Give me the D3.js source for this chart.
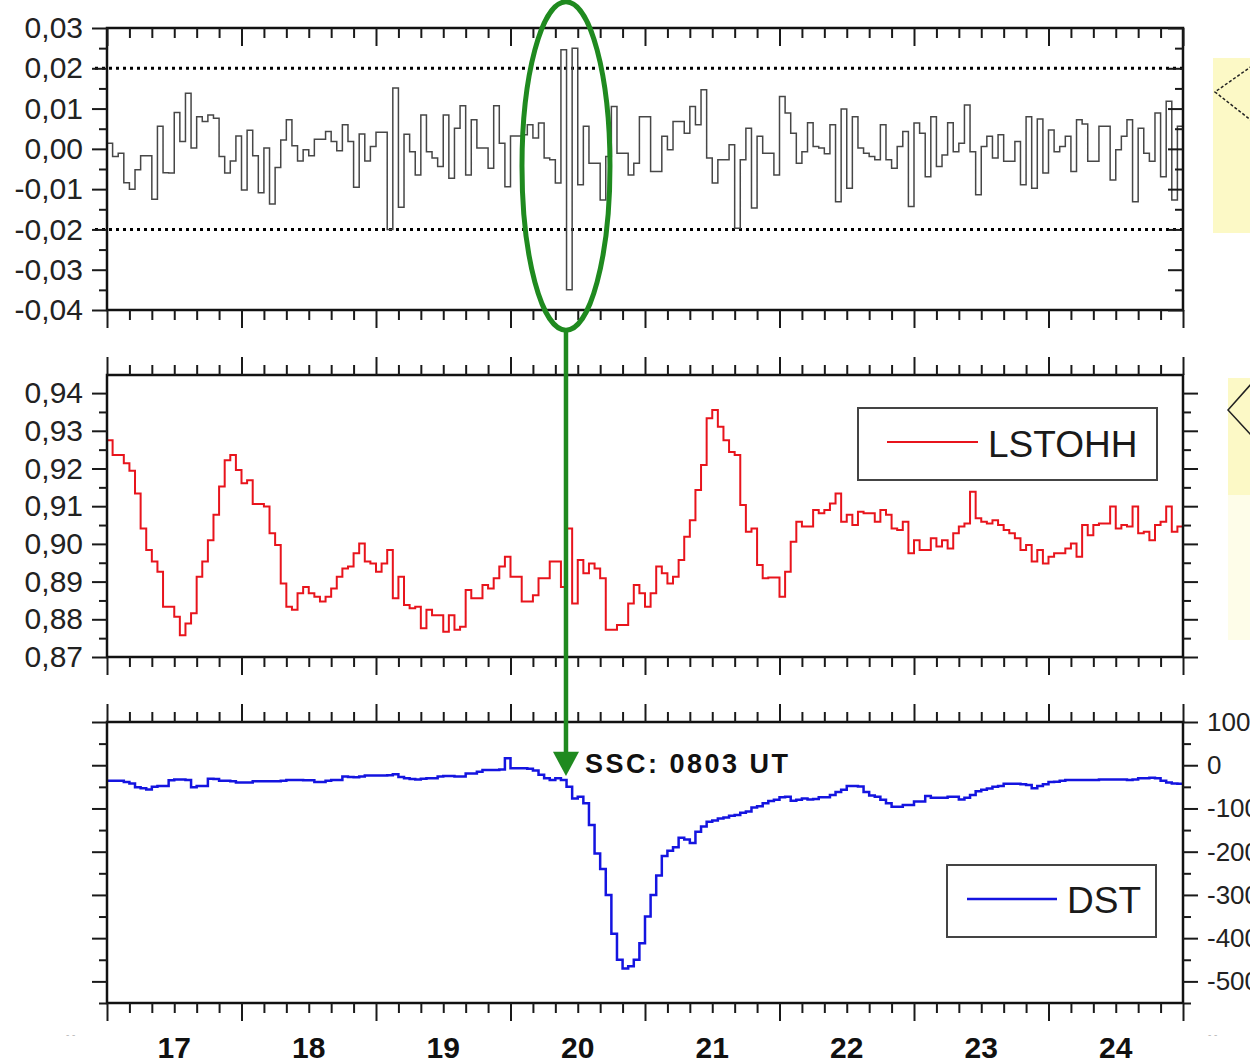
<!DOCTYPE html>
<html>
<head>
<meta charset="utf-8">
<script src="https://cdn.jsdelivr.net/npm/d3@7"></script>
<style>
body { margin: 0; background: #fff; }
svg { display: block; font-family: "Liberation Sans", Arial, sans-serif; }
</style>
</head>
<body>
<div id="graph"></div>
<script>
// days on the time axis, hourly samples (8 days x 24 h)
var days = [17, 18, 19, 20, 21, 22, 23, 24];

// top panel (grey steps)
var topValues = [0.0014,-0.0019,-0.0011,-0.0084,-0.0100,-0.0052,-0.0017,-0.0017,-0.0125,0.0056,
	-0.0059,-0.0060,0.0090,0.0018,0.0138,0.0002,0.0080,0.0068,0.0084,0.0076,
	-0.0019,-0.0060,-0.0030,0.0032,-0.0102,0.0046,-0.0017,-0.0109,0.0002,-0.0137,
	-0.0046,0.0022,0.0072,0.0008,-0.0030,-0.0002,-0.0017,0.0024,0.0024,0.0043,
	0.0018,-0.0005,0.0060,0.0018,-0.0095,0.0037,-0.0030,0.0006,0.0041,0.0041,
	-0.0200,0.0151,-0.0145,0.0036,-0.0007,-0.0065,0.0084,-0.0007,-0.0023,-0.0044,
	0.0084,-0.0073,0.0051,0.0107,-0.0065,0.0072,0.0002,0.0002,-0.0048,0.0107,
	0.0014,-0.0094,0.0032,0.0032,0.0035,0.0060,0.0027,0.0064,-0.0023,-0.0027,
	-0.0085,0.0246,-0.0350,0.0250,-0.0089,0.0056,-0.0036,-0.0036,-0.0127,-0.0019,
	0.0105,-0.0011,-0.0011,-0.0065,-0.0036,0.0080,0.0080,-0.0056,-0.0056,0.0031,
	-0.0002,0.0068,0.0068,0.0039,0.0105,0.0060,0.0147,-0.0023,-0.0085,-0.0027,
	-0.0027,0.0010,-0.0197,-0.0027,0.0051,-0.0147,0.0031,-0.0011,-0.0011,-0.0065,
	0.0130,0.0089,0.0039,-0.0036,-0.0007,0.0065,0.0006,0.0002,-0.0012,0.0060,
	-0.0131,0.0099,-0.0098,0.0080,0.0002,-0.0011,-0.0019,-0.0027,0.0060,-0.0027,
	-0.0048,0.0006,0.0043,-0.0143,0.0064,0.0039,-0.0069,0.0080,-0.0044,-0.0015,
	0.0065,-0.0007,0.0014,0.0109,-0.0007,-0.0114,0.0006,0.0031,-0.0023,0.0035,
	-0.0031,-0.0031,0.0018,-0.0089,0.0080,-0.0098,0.0074,-0.0060,0.0047,-0.0007,
	0.0006,0.0031,-0.0056,0.0072,0.0062,-0.0031,-0.0031,0.0056,0.0056,-0.0077,
	-0.0002,0.0031,0.0072,-0.0131,0.0051,-0.0011,-0.0031,0.0089,-0.0069,0.0118,
	-0.0127,0.0056];

// LSTOHH (red)
var lstohh = [0.9275,0.9236,0.9236,0.9214,0.9194,0.9134,0.9041,0.8984,0.8953,0.8926,
	0.8833,0.8833,0.8807,0.8758,0.8789,0.8816,0.8913,0.8953,0.9010,0.9077,
	0.9152,0.9222,0.9236,0.9196,0.9161,0.9169,0.9106,0.9106,0.9099,0.9028,
	0.8997,0.8895,0.8833,0.8825,0.8869,0.8886,0.8869,0.8860,0.8847,0.8860,
	0.8882,0.8913,0.8935,0.8940,0.8975,0.9001,0.8953,0.8948,0.8926,0.8948,
	0.8984,0.8856,0.8913,0.8838,0.8829,0.8833,0.8776,0.8825,0.8811,0.8811,
	0.8767,0.8811,0.8772,0.8780,0.8878,0.8856,0.8856,0.8891,0.8882,0.8909,
	0.8940,0.8966,0.8913,0.8913,0.8847,0.8847,0.8864,0.8909,0.8909,0.8953,
	0.8953,0.8886,0.9041,0.8842,0.8957,0.8922,0.8948,0.8935,0.8909,0.8772,
	0.8772,0.8785,0.8785,0.8842,0.8891,0.8869,0.8833,0.8869,0.8940,0.8922,
	0.8895,0.8913,0.8957,0.9019,0.9063,0.9143,0.9209,0.9333,0.9355,0.9311,
	0.9275,0.9244,0.9236,0.9103,0.9032,0.9041,0.8944,0.8909,0.8911,0.8911,
	0.8860,0.8926,0.9006,0.9059,0.9046,0.9046,0.9090,0.9081,0.9090,0.9107,
	0.9134,0.9059,0.9077,0.9050,0.9085,0.9081,0.9081,0.9059,0.9090,0.9077,
	0.9041,0.9037,0.9059,0.8975,0.9010,0.8984,0.8984,0.9015,0.8993,0.9010,
	0.8988,0.9028,0.9046,0.9054,0.9138,0.9068,0.9059,0.9054,0.9063,0.9050,
	0.9037,0.9028,0.9015,0.8984,0.8997,0.8953,0.8984,0.8948,0.8966,0.8975,
	0.8975,0.8988,0.9001,0.8966,0.9050,0.9023,0.9050,0.9054,0.9054,0.9099,
	0.9041,0.9050,0.9046,0.9099,0.9028,0.9032,0.9010,0.9050,0.9059,0.9099,
	0.9032,0.9046];

// DST index (blue)
var dst = [-36,-36,-36,-39,-42,-51,-53,-56,-50,-48,
	-48,-35,-33,-33,-34,-51,-48,-48,-31,-32,
	-36,-36,-37,-40,-40,-40,-37,-37,-37,-37,
	-37,-36,-34,-34,-34,-35,-35,-39,-39,-36,
	-34,-34,-26,-27,-28,-26,-24,-24,-24,-24,
	-23,-21,-27,-30,-32,-33,-31,-30,-30,-26,
	-25,-25,-26,-26,-19,-19,-15,-11,-11,-11,
	-10,16,-7,-7,-7,-8,-12,-22,-30,-34,
	-30,-34,-50,-77,-73,-88,-138,-204,-240,-300,
	-390,-450,-470,-465,-450,-412,-350,-300,-255,-210,
	-198,-190,-168,-172,-180,-154,-142,-131,-128,-123,
	-121,-117,-115,-110,-107,-98,-95,-88,-83,-80,
	-74,-73,-82,-80,-77,-79,-78,-74,-74,-69,
	-62,-57,-48,-48,-49,-62,-70,-73,-80,-88,
	-96,-96,-92,-92,-84,-84,-71,-75,-75,-75,
	-73,-73,-79,-75,-69,-60,-57,-54,-50,-48,
	-43,-43,-43,-44,-46,-53,-48,-44,-39,-38,
	-36,-34,-34,-34,-34,-34,-34,-33,-33,-33,
	-33,-33,-34,-33,-30,-30,-29,-30,-36,-40,
	-42,-43];

// tick values
var topTicks = [-0.04, -0.03, -0.02, -0.01, 0.00, 0.01, 0.02, 0.03];
var topMinor = [-0.035, -0.025, -0.015, -0.005, 0.005, 0.015, 0.025];
var midTicks = [0.87, 0.88, 0.89, 0.90, 0.91, 0.92, 0.93, 0.94];
var midMinor = [0.875, 0.885, 0.895, 0.905, 0.915, 0.925, 0.935];
var dstTicks = [-500, -400, -300, -200, -100, 0, 100];
var dstMinor = [-550, -450, -350, -250, -150, -50, 50];
var thresholds = [0.02, -0.02];
// storm sudden commencement, hour as placed in the picture
var ssc = { hour: 81.9, label: "SSC: 0803 UT" };

var W = 1250, H = 1063;
var svg = d3.select("#graph").append("svg").attr("width", W).attr("height", H);

var x = d3.scaleLinear().domain([0, days.length * 24]).range([107, 1183]);
var yTop = d3.scaleLinear().domain([-0.04, 0.03]).range([310, 28]);
var yMid = d3.scaleLinear().domain([0.87, 0.9448]).range([657, 375]);
var yDst = d3.scaleLinear().domain([-550, 100]).range([1003, 722]);

// comma decimals and plain hyphen minus, as in the original
var loc = d3.formatLocale({decimal: ",", thousands: ".", grouping: [3], currency: ["", ""], minus: "-"});
var fmt2 = loc.format(".2f");
var fmtInt = loc.format("d");

var majorHours = d3.range(0, days.length * 24 + 1, 24);
var minorHours = d3.range(0, days.length * 24 + 1, 4).filter(function(h){ return h % 24; });

// yellow callouts at the right edge (cut off picture)
svg.append("rect").attr("x", 1213).attr("y", 58).attr("width", 40).attr("height", 175).attr("fill", "#fcf9c6");
svg.append("path").attr("d", "M1252,66 L1215,92 L1252,121").attr("fill", "none")
	.attr("stroke", "#222").attr("stroke-width", 1.5).attr("stroke-dasharray", "3,2");
svg.append("rect").attr("x", 1228).attr("y", 378).attr("width", 25).attr("height", 117).attr("fill", "#fcf9c6");
svg.append("rect").attr("x", 1228).attr("y", 495).attr("width", 25).attr("height", 145).attr("fill", "#fefde9");
svg.append("path").attr("d", "M1252,383 L1228,410 L1252,436").attr("fill", "none")
	.attr("stroke", "#222").attr("stroke-width", 1.5);

function styleAxis(g, fs){
	g.select(".domain").remove();
	g.attr("font-size", fs).attr("font-family", null);
	g.selectAll("line").attr("stroke", "#1a1a1a").attr("stroke-width", 2);
	g.selectAll("text").attr("fill", "#222");
}

// x ticks, dir 1 = ticks pointing down, -1 = up
function xTicks(yPos, dir){
	[[majorHours, 18], [minorHours, 10]].forEach(function(t){
		var ax = (dir > 0 ? d3.axisBottom(x) : d3.axisTop(x)).tickValues(t[0]).tickSize(t[1]).tickFormat("");
		svg.append("g").attr("transform", "translate(0," + yPos + ")").call(ax).call(styleAxis, 10);
	});
}

// y ticks, side "left"/"right" is the direction the ticks point to
function yTicks(scale, xPos, side, major, minor, fmt, fs){
	var mk = side == "left" ? d3.axisLeft : d3.axisRight;
	svg.append("g").attr("transform", "translate(" + xPos + ",0)")
		.call(mk(scale).tickValues(major).tickSize(15).tickPadding(9).tickFormat(fmt || ""))
		.call(styleAxis, fs);
	svg.append("g").attr("transform", "translate(" + xPos + ",0)")
		.call(mk(scale).tickValues(minor).tickSize(8).tickFormat(""))
		.call(styleAxis, fs);
}

function frame(ys){
	svg.append("rect").attr("x", x(0)).attr("y", ys.range()[1])
		.attr("width", x.range()[1] - x.range()[0]).attr("height", ys.range()[0] - ys.range()[1])
		.attr("fill", "none").attr("stroke", "#111").attr("stroke-width", 2.5);
}

function hourly(vals){
	return vals.map(function(v, i){ return [i, v]; }).concat([[vals.length, vals[vals.length - 1]]]);
}
function stepLine(ys){
	return d3.line().x(function(d){ return x(d[0]); }).y(function(d){ return ys(d[1]); }).curve(d3.curveStepAfter);
}

// ---- top panel
svg.selectAll(".thr").data(thresholds).enter().append("line")
	.attr("x1", x(0) - 12).attr("x2", x(days.length * 24))
	.attr("y1", function(d){ return yTop(d); }).attr("y2", function(d){ return yTop(d); })
	.attr("stroke", "#000").attr("stroke-width", 3).attr("stroke-dasharray", "3,4");
svg.append("path").attr("d", stepLine(yTop)(hourly(topValues)))
	.attr("fill", "none").attr("stroke", "#474747").attr("stroke-width", 1.5);
frame(yTop);
yTicks(yTop, x(0), "left", topTicks, topMinor, fmt2, 30);
yTicks(yTop, x(days.length * 24), "left", topTicks, topMinor, null, 10);
xTicks(yTop.range()[1], 1);
xTicks(yTop.range()[0], 1);

// ---- middle panel
svg.append("path").attr("d", stepLine(yMid)(hourly(lstohh)))
	.attr("fill", "none").attr("stroke", "#e8141c").attr("stroke-width", 2);
frame(yMid);
yTicks(yMid, x(0), "left", midTicks, midMinor, fmt2, 30);
yTicks(yMid, x(days.length * 24), "right", midTicks, midMinor, null, 10);
xTicks(yMid.range()[1], -1);
xTicks(yMid.range()[0], 1);

// legend LSTOHH
var lg1 = svg.append("g").attr("transform", "translate(858,408)");
lg1.append("rect").attr("width", 299).attr("height", 72).attr("fill", "#fff").attr("stroke", "#444").attr("stroke-width", 2);
lg1.append("line").attr("x1", 29).attr("x2", 120).attr("y1", 34).attr("y2", 34).attr("stroke", "#e8141c").attr("stroke-width", 2);
lg1.append("text").attr("x", 130).attr("y", 49).attr("font-size", 37).attr("fill", "#1a1a1a").text("LSTOHH");

// ---- bottom panel
svg.append("path").attr("d", stepLine(yDst)(hourly(dst)))
	.attr("fill", "none").attr("stroke", "#1414e0").attr("stroke-width", 2.5);
frame(yDst);
yTicks(yDst, x(0), "left", dstTicks, dstMinor, null, 10);
yTicks(yDst, x(days.length * 24), "right", dstTicks, dstMinor, fmtInt, 26);
xTicks(yDst.range()[1], -1);
xTicks(yDst.range()[0], 1);

// day labels centred on each day
svg.selectAll(".day").data(days).enter().append("text")
	.attr("x", function(d, i){ return x(i * 24 + 12); }).attr("y", 1058)
	.attr("text-anchor", "middle").attr("font-size", 30).attr("font-weight", "bold").attr("fill", "#111")
	.text(function(d){ return d; });

// legend DST
var lg2 = svg.append("g").attr("transform", "translate(947,865)");
lg2.append("rect").attr("width", 209).attr("height", 72).attr("fill", "#fff").attr("stroke", "#444").attr("stroke-width", 2);
lg2.append("line").attr("x1", 20).attr("x2", 110).attr("y1", 34).attr("y2", 34).attr("stroke", "#1414e0").attr("stroke-width", 2.5);
lg2.append("text").attr("x", 120).attr("y", 48).attr("font-size", 37).attr("fill", "#1a1a1a").text("DST");

// ---- SSC marker: ellipse round the spike, arrow down to DST
var green = "#1f8a1f";
var cx = x(ssc.hour);
svg.append("ellipse").attr("cx", cx).attr("cy", (yTop(0.0365) + yTop(-0.045)) / 2)
	.attr("rx", x(ssc.hour + 7.85) - cx).attr("ry", (yTop(-0.045) - yTop(0.0365)) / 2)
	.attr("fill", "none").attr("stroke", green).attr("stroke-width", 5);
svg.append("line").attr("x1", cx).attr("x2", cx).attr("y1", yTop(-0.045)).attr("y2", yDst(28))
	.attr("stroke", green).attr("stroke-width", 4.5);
svg.append("path").attr("d", d3.line()([[cx - 13, yDst(31)], [cx + 13, yDst(31)], [cx, yDst(-25)]]) + "Z")
	.attr("fill", green);
svg.append("text").attr("x", cx + 19).attr("y", yDst(-18)).attr("font-size", 27).attr("font-weight", "bold")
	.attr("letter-spacing", 2.5).attr("fill", "#111").text(ssc.label);

// small grey scan marks under the axis ends
svg.append("text").attr("x", 66).attr("y", 1038).attr("font-size", 10).attr("fill", "#bbb").text("-  -");
svg.append("text").attr("x", 1208).attr("y", 1038).attr("font-size", 10).attr("fill", "#bbb").text("-  -");
</script>
</body>
</html>
